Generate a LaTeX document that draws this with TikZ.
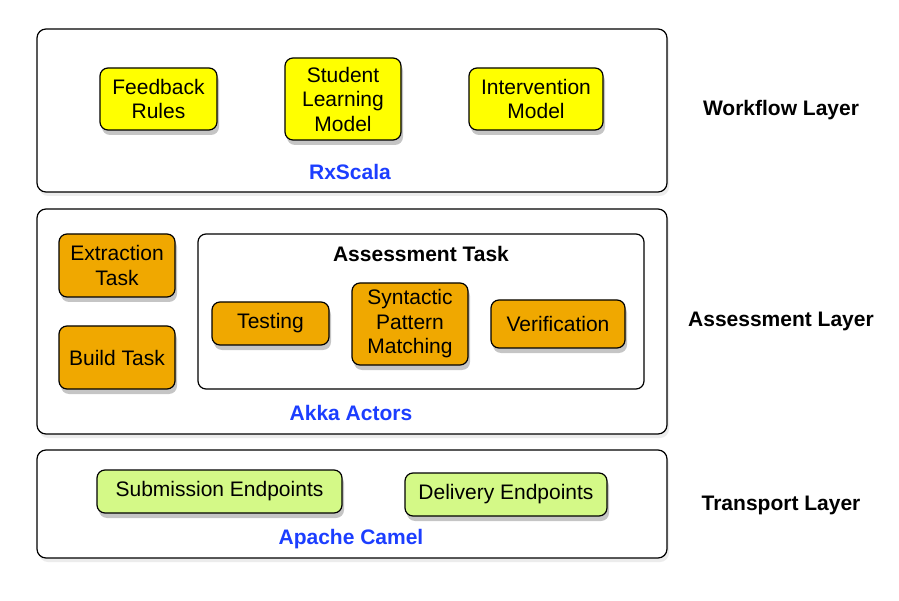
\documentclass[tikz,border=0pt]{standalone}
\usepackage{fontspec}
\setmainfont{Liberation Sans}
\usetikzlibrary{shadows}

\definecolor{wfyellow}{RGB}{255,255,0}
\definecolor{taskorange}{RGB}{240,168,0}
\definecolor{endgreen}{RGB}{212,249,135}
\definecolor{techblue}{RGB}{28,62,255}

\begin{document}
\begin{tikzpicture}[x=1pt,y=-1pt,
        every node/.style={font=\fontsize{21}{24.5}\selectfont, inner sep=0pt, align=center},
        layerbox/.style={draw, line width=1.2pt, rounded corners=9pt, fill=white,
            drop shadow={shadow xshift=2pt, shadow yshift=-4pt, opacity=0.15}},
        groupbox/.style={draw, line width=1.2pt, rounded corners=8pt, fill=white},
        comp/.style={draw, line width=1.2pt, rounded corners=8pt,
            drop shadow={shadow xshift=2pt, shadow yshift=-5pt, opacity=0.45}},
        wfcomp/.style={comp, fill=wfyellow},
        taskcomp/.style={comp, fill=taskorange},
        endcomp/.style={comp, fill=endgreen},
        tech/.style={font=\fontsize{21}{24.5}\selectfont\bfseries, text=techblue},
        layername/.style={font=\fontsize{21}{24.5}\selectfont\bfseries}]
        \useasboundingbox[fill=white] (0,0) rectangle (899,601);

        % Workflow layer
        \node[layerbox, minimum width=630pt, minimum height=163pt] (wfbox) at (352,110.5) {};
        \node[wfcomp, minimum width=117pt, minimum height=62pt] (fbrules) at (158.5,99) {Feedback\\Rules};
        \node[wfcomp, minimum width=116pt, minimum height=82pt] (slmodel) at (343,99) {Student\\Learning\\Model};
        \node[wfcomp, minimum width=134pt, minimum height=62pt] (imodel) at (536,99) {Intervention\\Model};
        \node[tech] (rxscala) at (350,172) {RxScala};
        \node[layername] (wflayer) at (781,110) {Workflow Layer};

        % Assessment layer
        \node[layerbox, minimum width=630pt, minimum height=225pt] (asbox) at (352,321.5) {};
        \node[taskcomp, minimum width=116pt, minimum height=63pt] (extract) at (117,265.5) {Extraction\\Task};
        \node[taskcomp, minimum width=116pt, minimum height=63pt] (build) at (117,357.5) {Build Task};
        \node[groupbox, minimum width=446pt, minimum height=155pt] (atbox) at (421,311.5) {};
        \node[layername] (attitle) at (421,254) {Assessment Task};
        \node[taskcomp, minimum width=117pt, minimum height=43pt] (testing) at (270.5,323.5) {Testing};
        \node[taskcomp, minimum width=116pt, minimum height=82pt] (spmatch) at (410,324) {Syntactic\\Pattern\\Matching};
        \node[taskcomp, minimum width=134pt, minimum height=48pt] (verif) at (558,324) {Verification};
        \node[tech] (akka) at (351,413) {Akka Actors};
        \node[layername] (aslayer) at (781,321) {Assessment Layer};

        % Transport layer
        \node[layerbox, minimum width=630pt, minimum height=108pt] (trbox) at (352,504) {};
        \node[endcomp, minimum width=245pt, minimum height=43pt] (subend) at (219.5,491.5) {Submission Endpoints};
        \node[endcomp, minimum width=202pt, minimum height=43pt] (delend) at (506,494.5) {Delivery Endpoints};
        \node[tech] (camel) at (351,539) {Apache Camel};
        \node[layername] (trlayer) at (781,505) {Transport Layer};
\end{tikzpicture}
\end{document}
